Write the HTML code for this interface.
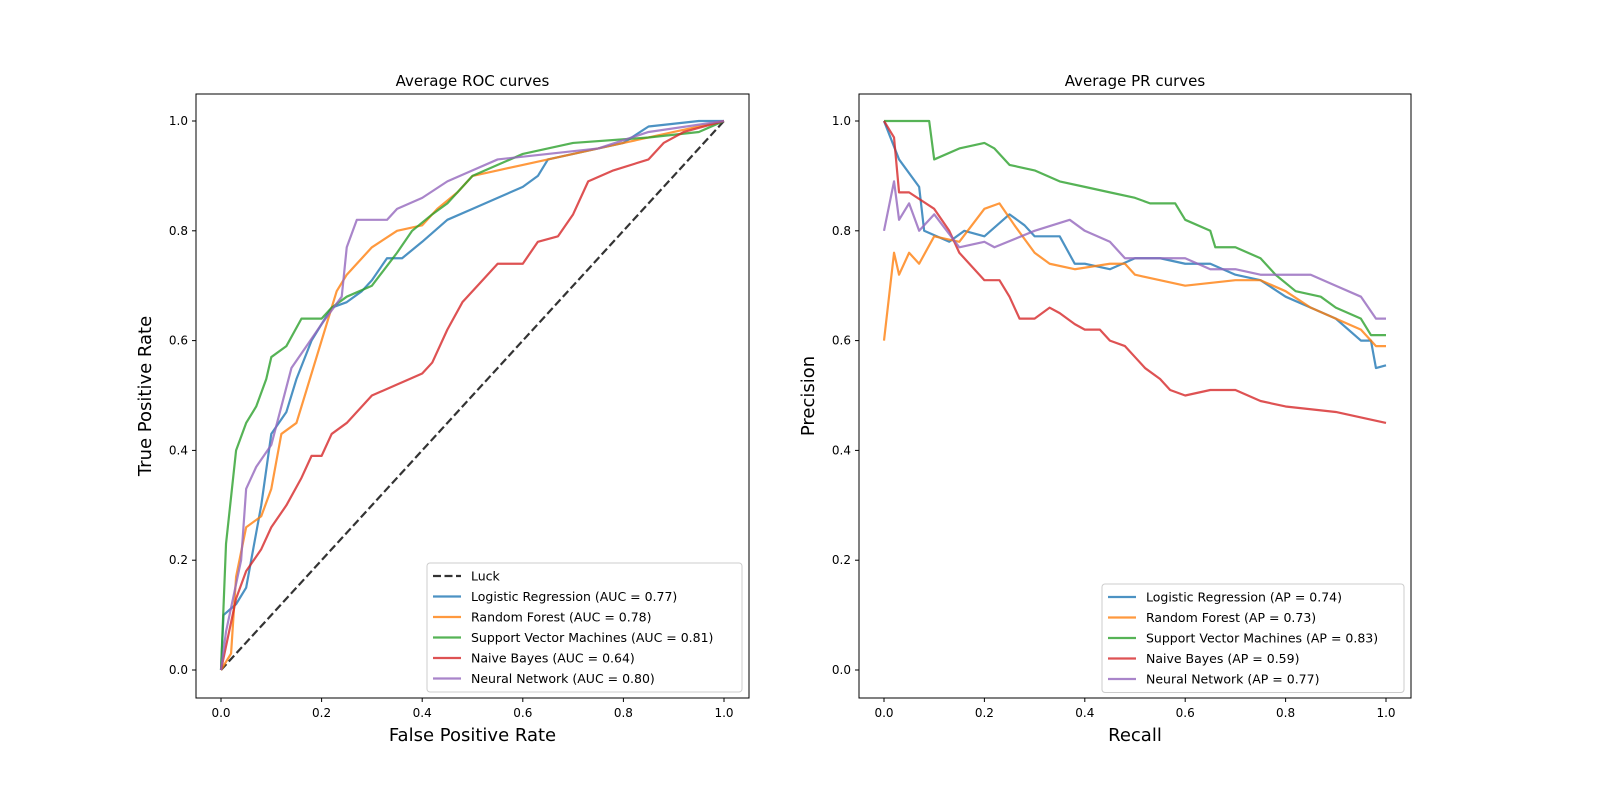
<!DOCTYPE html>
<html><head><meta charset="utf-8"><style>
html,body{margin:0;padding:0;background:#fff;overflow:hidden;width:1600px;height:800px}
svg{display:block;font-family:"DejaVu Sans","Liberation Sans",sans-serif}
</style></head><body>
<svg id="c" width="1600" height="800" xmlns="http://www.w3.org/2000/svg"></svg>
<script>
const names=["Logistic Regression","Random Forest","Support Vector Machines","Naive Bayes","Neural Network"];
const colors=["#1f77b4","#ff7f0e","#2ca02c","#d62728","#9467bd"];
const aucVals=["0.77","0.78","0.81","0.64","0.80"];
const apVals=["0.74","0.73","0.83","0.59","0.77"];
const ticks=[0,0.2,0.4,0.6,0.8,1.0];
const rocLR=[[0,0],[0.005,0.1],[0.03,0.12],[0.05,0.15],[0.06,0.2],[0.08,0.3],[0.1,0.43],[0.13,0.47],[0.15,0.53],[0.18,0.6],[0.2,0.63],[0.22,0.66],[0.25,0.67],[0.28,0.69],[0.3,0.71],[0.33,0.75],[0.36,0.75],[0.4,0.78],[0.45,0.82],[0.5,0.84],[0.55,0.86],[0.6,0.88],[0.63,0.9],[0.65,0.93],[0.7,0.94],[0.8,0.96],[0.85,0.99],[0.95,1],[1,1]];
const rocRF=[[0,0],[0.02,0.03],[0.03,0.17],[0.05,0.26],[0.08,0.28],[0.1,0.33],[0.12,0.43],[0.15,0.45],[0.17,0.51],[0.2,0.6],[0.23,0.69],[0.25,0.72],[0.3,0.77],[0.35,0.8],[0.4,0.81],[0.43,0.84],[0.47,0.87],[0.5,0.9],[0.55,0.91],[0.6,0.92],[0.7,0.94],[0.8,0.96],[0.9,0.98],[1,1]];
const rocSVM=[[0,0],[0.01,0.23],[0.03,0.4],[0.05,0.45],[0.07,0.48],[0.09,0.53],[0.1,0.57],[0.13,0.59],[0.16,0.64],[0.2,0.64],[0.22,0.66],[0.25,0.68],[0.3,0.7],[0.35,0.76],[0.38,0.8],[0.42,0.83],[0.45,0.85],[0.48,0.88],[0.5,0.9],[0.55,0.92],[0.6,0.94],[0.7,0.96],[0.85,0.97],[0.95,0.98],[1,1]];
const rocNB=[[0,0],[0.03,0.13],[0.05,0.18],[0.08,0.22],[0.1,0.26],[0.13,0.3],[0.16,0.35],[0.18,0.39],[0.2,0.39],[0.22,0.43],[0.25,0.45],[0.28,0.48],[0.3,0.5],[0.35,0.52],[0.4,0.54],[0.42,0.56],[0.45,0.62],[0.48,0.67],[0.52,0.71],[0.55,0.74],[0.6,0.74],[0.63,0.78],[0.67,0.79],[0.7,0.83],[0.73,0.89],[0.78,0.91],[0.85,0.93],[0.88,0.96],[0.92,0.98],[1,1]];
const rocNN=[[0,0],[0.01,0.07],[0.04,0.2],[0.05,0.33],[0.07,0.37],[0.1,0.41],[0.14,0.55],[0.17,0.59],[0.2,0.63],[0.24,0.68],[0.25,0.77],[0.27,0.82],[0.33,0.82],[0.35,0.84],[0.4,0.86],[0.45,0.89],[0.5,0.91],[0.55,0.93],[0.65,0.94],[0.75,0.95],[0.85,0.98],[1,1]];
const prLR=[[0,1],[0.03,0.93],[0.07,0.88],[0.08,0.8],[0.13,0.78],[0.16,0.8],[0.2,0.79],[0.25,0.83],[0.28,0.81],[0.3,0.79],[0.35,0.79],[0.38,0.74],[0.4,0.74],[0.45,0.73],[0.5,0.75],[0.55,0.75],[0.6,0.74],[0.65,0.74],[0.7,0.72],[0.75,0.71],[0.8,0.68],[0.85,0.66],[0.9,0.64],[0.95,0.6],[0.97,0.6],[0.98,0.55],[1,0.555]];
const prRF=[[0,0.6],[0.02,0.76],[0.03,0.72],[0.05,0.76],[0.07,0.74],[0.1,0.79],[0.15,0.78],[0.2,0.84],[0.23,0.85],[0.26,0.81],[0.3,0.76],[0.33,0.74],[0.38,0.73],[0.45,0.74],[0.48,0.74],[0.5,0.72],[0.6,0.7],[0.7,0.71],[0.75,0.71],[0.8,0.69],[0.85,0.66],[0.9,0.64],[0.95,0.62],[0.98,0.59],[1,0.59]];
const prSVM=[[0,1],[0.09,1],[0.1,0.93],[0.15,0.95],[0.2,0.96],[0.22,0.95],[0.25,0.92],[0.3,0.91],[0.35,0.89],[0.4,0.88],[0.45,0.87],[0.5,0.86],[0.53,0.85],[0.58,0.85],[0.6,0.82],[0.65,0.8],[0.66,0.77],[0.7,0.77],[0.75,0.75],[0.78,0.72],[0.82,0.69],[0.87,0.68],[0.9,0.66],[0.95,0.64],[0.97,0.61],[1,0.61]];
const prNB=[[0,1],[0.02,0.97],[0.03,0.87],[0.05,0.87],[0.1,0.84],[0.13,0.8],[0.15,0.76],[0.18,0.73],[0.2,0.71],[0.23,0.71],[0.25,0.68],[0.27,0.64],[0.3,0.64],[0.33,0.66],[0.35,0.65],[0.38,0.63],[0.4,0.62],[0.43,0.62],[0.45,0.6],[0.48,0.59],[0.5,0.57],[0.52,0.55],[0.55,0.53],[0.57,0.51],[0.6,0.5],[0.65,0.51],[0.7,0.51],[0.75,0.49],[0.8,0.48],[0.9,0.47],[0.95,0.46],[1,0.45]];
const prNN=[[0,0.8],[0.02,0.89],[0.03,0.82],[0.05,0.85],[0.07,0.8],[0.1,0.83],[0.15,0.77],[0.2,0.78],[0.22,0.77],[0.3,0.8],[0.37,0.82],[0.4,0.8],[0.45,0.78],[0.48,0.75],[0.55,0.75],[0.6,0.75],[0.65,0.73],[0.7,0.73],[0.75,0.72],[0.8,0.72],[0.85,0.72],[0.9,0.7],[0.95,0.68],[0.98,0.64],[1,0.64]];
const luck=[[0,0],[1,1]];

const svg=document.getElementById('c');
const NS="http://www.w3.org/2000/svg";
function mk(tag,attrs,parent){const e=document.createElementNS(NS,tag);for(const k in attrs)e.setAttribute(k,attrs[k]);(parent||svg).appendChild(e);return e;}
function txt(s,attrs,parent){const e=mk('text',attrs,parent);e.textContent=s;return e;}

function panel(key,L,R,title,xl,yl,series,labels,legTop,legLeft,legW,hasLuck){
  const T=94,B=698;
  const x0=L+25,x1=R-25,y0=670,y1=121;
  const sx=v=>x0+v*(x1-x0), sy=v=>y0-v*(y0-y1);
  const g=mk('g',{});
  
  
  ticks.forEach(t=>{
    mk('line',{x1:sx(t),x2:sx(t),y1:B,y2:B+4,stroke:'#000'},g);
    const a=txt(t.toFixed(1),{x:sx(t),y:B+19,'font-size':12,'text-anchor':'middle'},g);
    
    
    mk('line',{x1:L-4,x2:L,y1:sy(t),y2:sy(t),stroke:'#000'},g);
    const b=txt(t.toFixed(1),{x:L-8,y:sy(t)+4,'font-size':12,'text-anchor':'end'},g);
    
    
  });
  if(hasLuck){
    const p=mk('polyline',{points:luck.map(d=>sx(d[0])+','+sy(d[1])).join(' '),fill:'none',stroke:'#000','stroke-opacity':0.8,'stroke-width':2.2,'stroke-dasharray':'8,3.5'},g);
    
    
  }
  series.forEach((s,i)=>{
    const p=mk('polyline',{points:s.map(d=>sx(d[0])+','+sy(d[1])).join(' '),fill:'none',stroke:colors[i],'stroke-opacity':0.8,'stroke-width':2.2,'stroke-linejoin':'round'},g);
    
    
  });
  mk('rect',{x:L,y:T,width:R-L,height:B-T,fill:'none',stroke:'#000','stroke-width':1},g);
  const t=txt(title,{x:(L+R)/2,y:86,'font-size':15,'text-anchor':'middle'},g);
  
  
  const xt=txt(xl,{x:(L+R)/2,y:741,'font-size':18,'text-anchor':'middle'},g);
  
  
  const yt=txt(yl,{x:0,y:0,'font-size':18,'text-anchor':'middle',transform:`translate(${L-45},${(T+B)/2}) rotate(-90)`},g);
  
  
  const lg=mk('g',{},g);
  
  
  const all=(hasLuck?[['Luck','#000',true]]:[]).concat(labels.map((l,i)=>[l,colors[i],false]));
  const h=all.length*20.5+6;
  mk('rect',{x:legLeft,y:legTop,width:legW,height:h,rx:3,fill:'#fff','fill-opacity':0.8,stroke:'#ccc'},lg);
  all.forEach((e,i)=>{
    const y=legTop+13+i*20.5;
    mk('line',{x1:legLeft+6,x2:legLeft+34,y1:y,y2:y,stroke:e[1],'stroke-opacity':0.8,'stroke-width':2.2,'stroke-dasharray':e[2]?'8,3.5':'none'},lg);
    const tx=txt(e[0],{x:legLeft+44,y:y+4.5,'font-size':12.5},lg);
    
    
  });
}
panel('roc',196,749,'Average ROC curves','False Positive Rate','True Positive Rate',
  [rocLR,rocRF,rocSVM,rocNB,rocNN],names.map((n,i)=>n+' (AUC = '+aucVals[i]+')'),563,427,315,true);
panel('pr',859,1411,'Average PR curves','Recall','Precision',
  [prLR,prRF,prSVM,prNB,prNN],names.map((n,i)=>n+' (AP = '+apVals[i]+')'),584,1102,302,false);
</script>
</body></html>
